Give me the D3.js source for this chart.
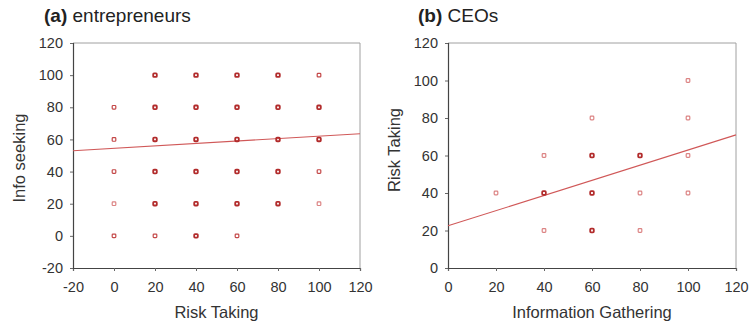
<!DOCTYPE html>
<html>
<head>
<meta charset="utf-8">
<script src="https://cdn.jsdelivr.net/npm/d3@7"></script>
<style>
  body { margin: 0; background: #fff; }
  svg { font-family: "Liberation Sans", Arial, sans-serif; }
</style>
</head>
<body>
<div id="chart"></div>
<script>
// panel (a) entrepreneurs: risk taking vs info seeking
const aRisk = [0, 0, 0, 0, 0, 20, 20, 20, 20, 20, 20, 40, 40, 40, 40, 40, 40, 60, 60, 60, 60, 60, 60, 80, 80, 80, 80, 80, 100, 100, 100, 100, 100];
const aInfo = [80, 60, 40, 20, 0, 100, 80, 60, 40, 20, 0, 100, 80, 60, 40, 20, 0, 100, 80, 60, 40, 20, 0, 100, 80, 60, 40, 20, 100, 80, 60, 40, 20];
// how dark the marker looks (overlapping cases)
const aWeight = [2, 2, 2, 1, 2, 3, 3, 3, 3, 3, 2, 3, 3, 3, 3, 3, 3, 3, 3, 3, 3, 3, 2, 3, 3, 3, 3, 3, 2, 3, 3, 2, 1];
const aFit = [53, 63.5]; // fitted values at x = -20 and x = 120

// panel (b) CEOs: information gathering vs risk taking
const bInfo = [20, 40, 40, 40, 60, 60, 60, 60, 80, 80, 80, 100, 100, 100, 100];
const bRisk = [40, 60, 40, 20, 80, 60, 40, 20, 60, 40, 20, 100, 80, 60, 40];
const bWeight = [1, 1, 3, 1, 1, 3, 3, 3, 3, 1, 1, 1, 1, 1, 1];
const bFit = [22.5, 71]; // fitted values at x = 0 and x = 120

const ticksA = [-20, 0, 20, 40, 60, 80, 100, 120];
const ticksB = [0, 20, 40, 60, 80, 100, 120];

const width = 749, height = 329;
const svg = d3.select('#chart').append('svg')
    .attr('width', width)
    .attr('height', height);

const colors = { 1: '#dc8484', 2: '#c44848', 3: '#b22c2c' };

function panel(opts) {
    const x = d3.scaleLinear().domain(opts.xDomain).range([opts.left, opts.right]);
    const y = d3.scaleLinear().domain(opts.yDomain).range([268, 43]);
    const g = svg.append('g');

    // light frame on top and right
    g.append('path')
        .attr('d', `M${opts.left},43H${opts.right}V268`)
        .attr('fill', 'none')
        .attr('stroke', '#a0a0a0')
        .attr('stroke-width', 1);

    const xAxis = g.append('g')
        .attr('transform', `translate(0,268)`)
        .call(d3.axisBottom(x).tickValues(opts.xTicks).tickFormat(d => String(d)).tickSize(3).tickPadding(11));
    const yAxis = g.append('g')
        .attr('transform', `translate(${opts.left},0)`)
        .call(d3.axisLeft(y).tickValues(opts.yTicks).tickFormat(d => String(d)).tickSize(3).tickPadding(7));

    [xAxis, yAxis].forEach(ax => {
        ax.select('.domain').attr('stroke', '#444').attr('stroke-width', 1.2);
        ax.selectAll('.tick line').attr('stroke', '#666');
        ax.selectAll('.tick text')
            .attr('fill', '#333')
            .style('font-size', '14.5px');
    });

    // regression line
    g.append('line')
        .attr('x1', x(opts.xDomain[0]))
        .attr('y1', y(opts.fit[0]))
        .attr('x2', x(opts.xDomain[1]))
        .attr('y2', y(opts.fit[1]))
        .attr('stroke', '#d05858')
        .attr('stroke-width', 1.1);

    // markers
    const s = 3.6;
    g.selectAll('rect.pt')
        .data(opts.xs.map((d, i) => ({ x: d, y: opts.ys[i], w: opts.w[i] })))
        .enter()
        .append('rect')
        .attr('class', 'pt')
        .attr('x', d => x(d.x) - s / 2)
        .attr('y', d => y(d.y) - s / 2)
        .attr('width', s)
        .attr('height', s)
        .attr('rx', 0.8)
        .attr('fill', 'none')
        .attr('stroke', d => colors[d.w])
        .attr('stroke-width', d => d.w === 3 ? 1.8 : 1.2);

    // titles
    const t = svg.append('text')
        .attr('x', opts.titleX)
        .attr('y', 22)
        .attr('fill', '#222')
        .style('font-size', '19px');
    t.append('tspan').attr('font-weight', 'bold').text(opts.tag);
    t.append('tspan').text(' ' + opts.title);

    svg.append('text')
        .attr('x', (opts.left + opts.right) / 2)
        .attr('y', 318)
        .attr('text-anchor', 'middle')
        .attr('fill', '#333')
        .style('font-size', '16.5px')
        .text(opts.xLabel);

    svg.append('text')
        .attr('transform', `translate(${opts.yLabelX},${opts.yLabelY}) rotate(-90)`)
        .attr('text-anchor', 'middle')
        .attr('fill', '#333')
        .style('font-size', '16.5px')
        .text(opts.yLabel);
}

panel({
    left: 73, right: 360,
    xDomain: [-20, 120], yDomain: [-20, 120],
    xTicks: ticksA, yTicks: ticksA,
    xs: aRisk, ys: aInfo, w: aWeight, fit: aFit,
    tag: '(a)', title: 'entrepreneurs', titleX: 44,
    xLabel: 'Risk Taking', yLabel: 'Info seeking', yLabelX: 25, yLabelY: 158
});

panel({
    left: 448, right: 736,
    xDomain: [0, 120], yDomain: [0, 120],
    xTicks: ticksB, yTicks: ticksB,
    xs: bInfo, ys: bRisk, w: bWeight, fit: bFit,
    tag: '(b)', title: 'CEOs', titleX: 418,
    xLabel: 'Information Gathering', yLabel: 'Risk Taking', yLabelX: 400, yLabelY: 150
});
</script>
</body>
</html>
